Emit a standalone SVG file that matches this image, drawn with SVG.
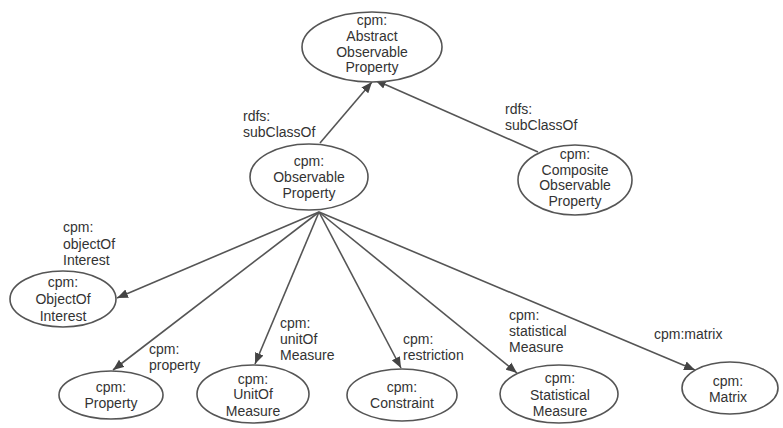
<svg xmlns="http://www.w3.org/2000/svg" width="783" height="428" viewBox="0 0 783 428">
<defs>
<style>
.n ellipse{fill:#fff;stroke:#555;stroke-width:1.6}
text{font-family:"Liberation Sans",Arial,sans-serif;font-size:14px;fill:#333}
.n text{text-anchor:middle}
.e line{stroke:#555;stroke-width:1.6;marker-end:url(#ah)}
</style>
<marker id="ah" markerUnits="userSpaceOnUse" markerWidth="12" markerHeight="10" refX="11" refY="5" orient="auto">
<path d="M0,0.5 L11,5 L0,9.5 z" fill="#444"/>
</marker>
</defs>
<rect width="783" height="428" fill="#fff"/>
<g id="connectors" class="e">
<line x1="320" y1="143" x2="372" y2="82"/>
<line x1="538" y1="152" x2="375" y2="80"/>
<line x1="319" y1="212" x2="117" y2="298"/>
<line x1="319" y1="212" x2="113" y2="370"/>
<line x1="319" y1="212" x2="255" y2="364"/>
<line x1="319" y1="212" x2="401" y2="368"/>
<line x1="319" y1="212" x2="517" y2="373"/>
<line x1="319" y1="212" x2="695" y2="370"/>
</g>
<g id="edge-labels">
<text x="243" y="121">rdfs:</text>
<text x="243" y="137">subClassOf</text>
<text x="505" y="114">rdfs:</text>
<text x="505" y="130">subClassOf</text>
<text x="63" y="232">cpm:</text>
<text x="63" y="249">objectOf</text>
<text x="63" y="265">Interest</text>
<text x="149" y="354">cpm:</text>
<text x="149" y="370">property</text>
<text x="280" y="328">cpm:</text>
<text x="280" y="344">unitOf</text>
<text x="280" y="360">Measure</text>
<text x="403" y="344">cpm:</text>
<text x="403" y="360">restriction</text>
<text x="509" y="320">cpm:</text>
<text x="509" y="336">statistical</text>
<text x="509" y="352">Measure</text>
<text x="654" y="339">cpm:matrix</text>
</g>
<g id="abstract" class="n">
<ellipse cx="372" cy="47" rx="70" ry="35"/>
<text x="372" y="25">cpm:</text>
<text x="372" y="41">Abstract</text>
<text x="372" y="57">Observable</text>
<text x="372" y="72">Property</text>
</g>
<g id="observable" class="n">
<ellipse cx="309" cy="177" rx="59" ry="33"/>
<text x="309" y="166">cpm:</text>
<text x="309" y="182">Observable</text>
<text x="309" y="198">Property</text>
</g>
<g id="composite" class="n">
<ellipse cx="575" cy="180" rx="57" ry="35"/>
<text x="575" y="159">cpm:</text>
<text x="575" y="175">Composite</text>
<text x="575" y="190">Observable</text>
<text x="575" y="206">Property</text>
</g>
<g id="objectOfInterest" class="n">
<ellipse cx="63" cy="299" rx="53" ry="28"/>
<text x="63" y="287">cpm:</text>
<text x="63" y="304">ObjectOf</text>
<text x="63" y="321">Interest</text>
</g>
<g id="property" class="n">
<ellipse cx="111" cy="395" rx="52" ry="24"/>
<text x="111" y="392">cpm:</text>
<text x="111" y="408">Property</text>
</g>
<g id="unitOfMeasure" class="n">
<ellipse cx="253" cy="394" rx="56" ry="29"/>
<text x="253" y="384">cpm:</text>
<text x="253" y="399">UnitOf</text>
<text x="253" y="416">Measure</text>
</g>
<g id="constraint" class="n">
<ellipse cx="402" cy="395" rx="55" ry="26"/>
<text x="402" y="392">cpm:</text>
<text x="402" y="408">Constraint</text>
</g>
<g id="statisticalMeasure" class="n">
<ellipse cx="559" cy="394" rx="59" ry="29"/>
<text x="560" y="383">cpm:</text>
<text x="560" y="400">Statistical</text>
<text x="560" y="416">Measure</text>
</g>
<g id="matrix" class="n">
<ellipse cx="730" cy="388" rx="48" ry="26"/>
<text x="728" y="386">cpm:</text>
<text x="728" y="402">Matrix</text>
</g>
</svg>
